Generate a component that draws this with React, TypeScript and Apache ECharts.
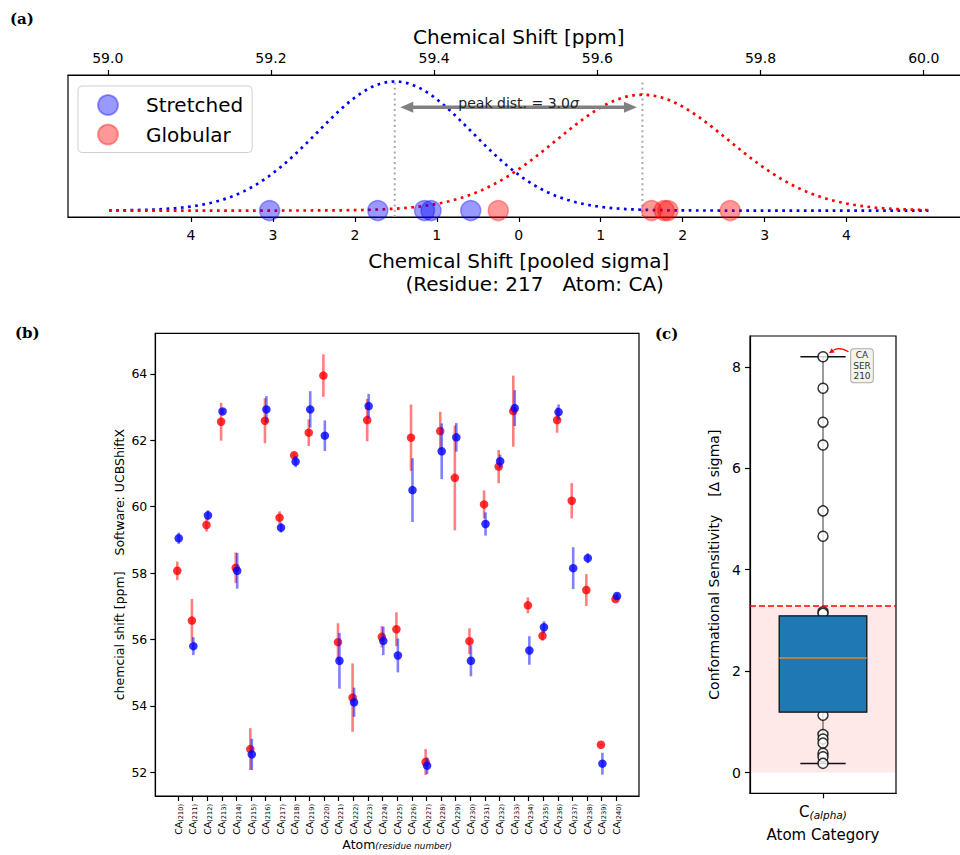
import React, { useEffect, useRef } from "react";
import * as echarts from "echarts";

// ---------------- Panel (a) data ----------------
const stretchedSigma = [-3.04, -1.72, -1.15, -1.07, -0.586];
const globularSigma = [-0.25, 1.62, 1.775, 1.82, 2.58];
const sigmaTicks = [-4, -3, -2, -1, 0, 1, 2, 3, 4];
const ppmTicks = [59.0, 59.2, 59.4, 59.6, 59.8, 60.0];
const ppmAtZeroSigma = 59.5037;
const ppmPerSigma = 0.10044;
const curveRange = [-5, 5];
const residueLine = "(Residue: 217   Atom: CA)";

// ---------------- Panel (b) data ----------------
const residues = [
  210, 211, 212, 213, 214, 215, 216, 217, 218, 219, 220, 221, 222, 223, 224, 225,
  226, 227, 228, 229, 230, 231, 232, 233, 234, 235, 236, 237, 238, 239, 240,
];
const stretchedShift = [
  59.05, 55.8, 59.74, 62.87, 58.07, 52.54, 62.93, 59.37, 61.36, 62.93, 62.14, 55.36,
  54.11, 63.03, 55.96, 55.52, 60.5, 52.2, 61.67, 62.09, 55.36, 59.48, 61.37, 62.97,
  55.67, 56.37, 62.85, 58.15, 58.45, 52.26, 57.31,
];
const stretchedErr = [
  0.17, 0.27, 0.15, 0.08, 0.54, 0.47, 0.4, 0.15, 0.17, 0.55, 0.46, 0.84, 0.44, 0.37,
  0.43, 0.51, 0.96, 0.25, 0.84, 0.43, 0.47, 0.35, 0.2, 0.54, 0.43, 0.18, 0.23, 0.63,
  0.15, 0.33, 0.08,
];
const globularShift = [
  58.07, 56.57, 59.45, 62.56, 58.16, 52.7, 62.59, 59.67, 61.55, 62.23, 63.95, 55.92,
  54.25, 62.61, 56.08, 56.31, 62.08, 52.31, 62.28, 60.87, 55.95, 60.07, 61.21, 62.88,
  57.03, 56.11, 62.61, 60.18, 57.49, 52.83, 57.22,
];
const globularErr = [
  0.28, 0.65, 0.2, 0.57, 0.46, 0.63, 0.68, 0.19, 0.08, 0.4, 0.64, 0.57, 1.03, 0.64,
  0.32, 0.51, 1.0, 0.39, 0.58, 1.58, 0.39, 0.42, 0.5, 1.07, 0.24, 0.15, 0.38, 0.53,
  0.48, 0.03, 0.05,
];
const shiftTicks = [52, 54, 56, 58, 60, 62, 64];

// ---------------- Panel (c) data ----------------
const sensitivityPoints = [
  8.2, 7.58, 6.91, 6.46, 5.16, 4.66, 3.17, 3.14, 1.13, 0.75, 0.66, 0.58, 0.38, 0.31, 0.18,
];
// low whisker, Q1, median, Q3, high whisker
const boxStats = [0.18, 1.19, 2.26, 3.09, 8.2];
const sensitivityThreshold = 3.29;
const sensitivityTicks = [0, 2, 4, 6, 8];
const annotationLines = ["CA", "SER", "210"];
const annotationValue = 8.2;

// ---------------- helpers ----------------
const FONT = '"DejaVu Sans", sans-serif';
const mean = (a: number[]) => a.reduce((s, v) => s + v, 0) / a.length;
const sampleStd = (a: number[]) => {
  const m = mean(a);
  return Math.sqrt(a.reduce((s, v) => s + (v - m) * (v - m), 0) / (a.length - 1));
};
const normalPdf = (x: number, m: number, s: number) =>
  Math.exp(-((x - m) * (x - m)) / (2 * s * s)) / (s * Math.sqrt(2 * Math.PI));

function buildOption() {
  // panel (a)
  const mB = mean(stretchedSigma);
  const sB = sampleStd(stretchedSigma);
  const mR = mean(globularSigma);
  const sR = sampleStd(globularSigma);
  const nSamples = 200;
  const xs: number[] = [];
  for (let i = 0; i <= nSamples; i++) {
    xs.push(curveRange[0] + ((curveRange[1] - curveRange[0]) * i) / nSamples);
  }
  const blueCurve = xs.map((x) => [x, normalPdf(x, mB, sB)]);
  const redCurve = xs.map((x) => [x, normalPdf(x, mR, sR)]);
  const peak = Math.max(normalPdf(mB, mB, sB), normalPdf(mR, mR, sR));
  const aYMin = -0.05 * peak;
  const aYMax = peak * 1.05;
  const span = curveRange[1] - curveRange[0];
  const aXMin = curveRange[0] - 0.05 * span;
  const aXMax = curveRange[1] + 0.05 * span;
  const ppmMin = ppmAtZeroSigma + aXMin * ppmPerSigma;
  const ppmMax = ppmAtZeroSigma + aXMax * ppmPerSigma;
  const arrowY = 0.8 * peak;
  const peakDist = mR - mB;

  // panel (b)
  const off = 0.05;
  const n = residues.length;
  const bxLo = -off;
  const bxHi = n - 1 + off;
  const bxMin = bxLo - 0.05 * (bxHi - bxLo);
  const bxMax = bxHi + 0.05 * (bxHi - bxLo);
  const lows = [
    ...stretchedShift.map((v, i) => v - stretchedErr[i]),
    ...globularShift.map((v, i) => v - globularErr[i]),
  ];
  const highs = [
    ...stretchedShift.map((v, i) => v + stretchedErr[i]),
    ...globularShift.map((v, i) => v + globularErr[i]),
  ];
  const byLo = Math.min(...lows);
  const byHi = Math.max(...highs);
  const byMin = byLo - 0.05 * (byHi - byLo);
  const byMax = byHi + 0.05 * (byHi - byLo);
  const idx = residues.map((_, i) => i);

  // panel (c)
  const cyMin = -0.05 * boxStats[4];
  const cyMax = boxStats[4] * 1.05;

  const axisLine = { show: true, onZero: false, lineStyle: { color: "#000", width: 1.2 } };
  const axisTick = (vals: number[]) => ({
    show: true,
    length: 5,
    customValues: vals,
    lineStyle: { color: "#000", width: 1.2 },
  });

  const errRender = (color: string) => (params: any, api: any) => {
    const x = api.value(0);
    const y = api.value(1);
    const e = api.value(2);
    const p1 = api.coord([x, y - e]);
    const p2 = api.coord([x, y + e]);
    return {
      type: "line",
      shape: { x1: p1[0], y1: p1[1], x2: p2[0], y2: p2[1] },
      style: { stroke: color, lineWidth: 2.6 },
    };
  };

  const gridBase = { show: true, borderColor: "#000", borderWidth: 1.2, containLabel: false, outerBoundsMode: "none" };

  return {
    animation: false,
    backgroundColor: "#fff",
    textStyle: { fontFamily: FONT },
    legend: {
      data: ["Stretched", "Globular"],
      orient: "vertical",
      left: 78,
      top: 86,
      padding: [8, 9, 7, 19],
      itemGap: 7.5,
      itemWidth: 20,
      itemHeight: 20,
      icon: "circle",
      borderColor: "#d0d0d0",
      borderWidth: 1,
      borderRadius: 4,
      backgroundColor: "#fff",
      formatter: (name: string) => "{g|}" + name,
      textStyle: {
        fontSize: 20,
        color: "#000",
        fontFamily: FONT,
        rich: { g: { width: 23 } },
      },
    },
    graphic: [
      { type: "text", left: 10, top: 11, style: { text: "(a)", font: 'bold 15px "DejaVu Serif"', fill: "#000" } },
      { type: "text", left: 15, top: 325, style: { text: "(b)", font: 'bold 15px "DejaVu Serif"', fill: "#000" } },
      { type: "text", left: 655, top: 326, style: { text: "(c)", font: 'bold 15px "DejaVu Serif"', fill: "#000" } },
    ],
    grid: [
      { ...gridBase, left: 68, top: 75, width: 901.5, height: 142 },
      { ...gridBase, left: 155.3, top: 333.3, width: 483.7, height: 462.7 },
      { ...gridBase, left: 750, top: 336, width: 146, height: 457.3 },
    ],
    xAxis: [
      {
        gridIndex: 0,
        type: "value",
        position: "bottom",
        min: aXMin,
        max: aXMax,
        axisLine,
        axisTick: axisTick(sigmaTicks),
        splitLine: { show: false },
        axisLabel: {
          customValues: sigmaTicks,
          formatter: (v: number) => String(Math.abs(Math.round(v))),
          fontSize: 14,
          color: "#000",
          margin: 11,
        },
        name: "Chemical Shift [pooled sigma]\n     " + residueLine,
        nameLocation: "middle",
        nameGap: 32,
        nameMoveOverlap: false,
        nameTextStyle: { fontSize: 20, color: "#000", lineHeight: 23 },
      },
      {
        gridIndex: 0,
        type: "value",
        position: "top",
        min: ppmMin,
        max: ppmMax,
        axisLine,
        axisTick: axisTick(ppmTicks),
        splitLine: { show: false },
        axisLabel: {
          customValues: ppmTicks,
          formatter: (v: number) => v.toFixed(1),
          fontSize: 14,
          color: "#000",
          margin: 10,
        },
        name: "Chemical Shift [ppm]",
        nameLocation: "middle",
        nameGap: 28,
        nameMoveOverlap: false,
        nameTextStyle: { fontSize: 20, color: "#000" },
      },
      {
        gridIndex: 1,
        type: "value",
        min: bxMin,
        max: bxMax,
        axisLine,
        axisTick: axisTick(idx),
        splitLine: { show: false },
        axisLabel: {
          customValues: idx,
          rotate: 90,
          margin: 8,
          formatter: (v: number) => "{a|CA}{s|(" + residues[Math.round(v)] + ")}",
          rich: {
            a: { fontSize: 9.5, color: "#000", fontFamily: FONT },
            s: { fontSize: 6.6, color: "#000", fontFamily: FONT, padding: [5, 0, 0, 0] },
          },
        },
        name: "{a|Atom}{s|(residue number)}",
        nameLocation: "middle",
        nameGap: 42,
        nameMoveOverlap: false,
        nameTextStyle: {
          rich: {
            a: { fontSize: 12.5, lineHeight: 13, color: "#000", fontFamily: FONT },
            s: { fontSize: 8.8, lineHeight: 13, color: "#000", fontStyle: "italic", fontFamily: FONT, padding: [3, 0, 0, 0] },
          },
        },
      },
      {
        gridIndex: 2,
        type: "category",
        data: ["C(alpha)"],
        axisLine,
        axisTick: { show: true, alignWithLabel: true, length: 5, lineStyle: { color: "#000", width: 1.2 } },
        splitLine: { show: false },
        axisLabel: {
          margin: 10,
          formatter: () => "{c|C}{s|(alpha)}",
          rich: {
            c: { fontSize: 15, color: "#000", fontFamily: FONT },
            s: { fontSize: 10.5, color: "#000", fontStyle: "italic", fontFamily: FONT, padding: [6, 0, 0, 0] },
          },
        },
        name: "Atom Category",
        nameLocation: "middle",
        nameGap: 34,
        nameMoveOverlap: false,
        nameTextStyle: { fontSize: 15, color: "#000" },
      },
    ],
    yAxis: [
      { gridIndex: 0, type: "value", min: aYMin, max: aYMax, show: false, axisLine: { onZero: false } },
      {
        gridIndex: 1,
        type: "value",
        min: byMin,
        max: byMax,
        axisLine,
        axisTick: axisTick(shiftTicks),
        splitLine: { show: false },
        axisLabel: { customValues: shiftTicks, fontSize: 12.5, color: "#000", margin: 8 },
        name: "chemcial shift [ppm]    Software: UCBShiftX",
        nameLocation: "middle",
        nameRotate: 90,
        nameGap: 29,
        nameMoveOverlap: false,
        nameTextStyle: { fontSize: 12.5, color: "#000" },
      },
      {
        gridIndex: 2,
        type: "value",
        min: cyMin,
        max: cyMax,
        axisLine,
        axisTick: axisTick(sensitivityTicks),
        splitLine: { show: false },
        axisLabel: { customValues: sensitivityTicks, fontSize: 14, color: "#000", margin: 9 },
        name: "Conformational Sensitivity    [Δ sigma]",
        nameLocation: "middle",
        nameRotate: 90,
        nameGap: 29,
        nameMoveOverlap: false,
        nameTextStyle: { fontSize: 14, color: "#000" },
      },
    ],
    series: [
      // ---------- (a) ----------
      {
        name: "stretched-fit",
        type: "line",
        xAxisIndex: 0,
        yAxisIndex: 0,
        data: blueCurve,
        showSymbol: false,
        symbol: "none",
        lineStyle: { color: "#0000ff", width: 2.7, type: [2.7, 4.5] },
        z: 2,
      },
      {
        name: "globular-fit",
        type: "line",
        xAxisIndex: 0,
        yAxisIndex: 0,
        data: redCurve,
        showSymbol: false,
        symbol: "none",
        lineStyle: { color: "#ff0000", width: 2.7, type: [2.7, 4.5] },
        z: 2,
      },
      {
        name: "peak-lines",
        type: "line",
        xAxisIndex: 0,
        yAxisIndex: 0,
        data: [[mB, aYMin], [mB, peak], null, [mR, aYMin], [mR, peak]],
        connectNulls: false,
        showSymbol: false,
        symbol: "none",
        lineStyle: { color: "#aaaaaa", width: 2, type: [2, 3.3] },
        z: 1,
      },
      {
        name: "Stretched",
        type: "scatter",
        xAxisIndex: 0,
        yAxisIndex: 0,
        data: stretchedSigma.map((x) => [x, 0]),
        symbolSize: 20,
        itemStyle: { color: "rgba(0,0,255,0.5)", borderColor: "rgba(0,0,255,0.45)", borderWidth: 1.5 },
        z: 3,
      },
      {
        name: "Globular",
        type: "scatter",
        xAxisIndex: 0,
        yAxisIndex: 0,
        data: globularSigma.map((x) => [x, 0]),
        symbolSize: 20,
        itemStyle: { color: "rgba(255,0,0,0.5)", borderColor: "rgba(255,0,0,0.45)", borderWidth: 1.5 },
        z: 3,
      },
      {
        name: "peak-arrow",
        type: "custom",
        xAxisIndex: 0,
        yAxisIndex: 0,
        data: [[mB, arrowY, mR]],
        z: 4,
        renderItem: (params: any, api: any) => {
          const p1 = api.coord([api.value(0), api.value(1)]);
          const p2 = api.coord([api.value(2), api.value(1)]);
          const shrink = 5.5;
          const hl = 13;
          const hw = 5.5;
          const x1 = p1[0] + shrink;
          const x2 = p2[0] - shrink;
          const y = p1[1];
          const col = "#808080";
          return {
            type: "group",
            children: [
              {
                type: "line",
                shape: { x1: x1 + hl - 2, y1: y, x2: x2 - hl + 2, y2: y },
                style: { stroke: col, lineWidth: 3.5 },
              },
              {
                type: "polygon",
                shape: { points: [[x1, y], [x1 + hl, y - hw], [x1 + hl, y + hw]] },
                style: { fill: col },
              },
              {
                type: "polygon",
                shape: { points: [[x2, y], [x2 - hl, y - hw], [x2 - hl, y + hw]] },
                style: { fill: col },
              },
              {
                type: "text",
                x: (x1 + x2) / 2,
                y: y - 4.5,
                style: {
                  text: "peak dist. = " + peakDist.toFixed(1) + "{i|σ}",
                  fill: "#222",
                  font: '14px "DejaVu Sans"',
                  align: "center",
                  verticalAlign: "middle",
                  rich: { i: { fontStyle: "italic", fontSize: 14, fill: "#222", fontFamily: "DejaVu Sans" } },
                },
              },
            ],
          };
        },
      },
      // ---------- (b) ----------
      {
        name: "globular-err",
        type: "custom",
        xAxisIndex: 2,
        yAxisIndex: 1,
        data: idx.map((i) => [i - off, globularShift[i], globularErr[i]]),
        renderItem: errRender("rgba(255,0,0,0.5)"),
        z: 2,
      },
      {
        name: "globular-pts",
        type: "scatter",
        xAxisIndex: 2,
        yAxisIndex: 1,
        data: idx.map((i) => [i - off, globularShift[i]]),
        symbolSize: 8.5,
        itemStyle: { color: "#ff0000" },
        z: 3,
      },
      {
        name: "stretched-err",
        type: "custom",
        xAxisIndex: 2,
        yAxisIndex: 1,
        data: idx.map((i) => [i + off, stretchedShift[i], stretchedErr[i]]),
        renderItem: errRender("rgba(0,0,255,0.5)"),
        z: 4,
      },
      {
        name: "stretched-pts",
        type: "scatter",
        xAxisIndex: 2,
        yAxisIndex: 1,
        data: idx.map((i) => [i + off, stretchedShift[i]]),
        symbolSize: 8.5,
        itemStyle: { color: "#0000ff" },
        z: 5,
      },
      // ---------- (c) ----------
      {
        name: "whiskers",
        type: "custom",
        xAxisIndex: 3,
        yAxisIndex: 2,
        data: [[0, ...boxStats]],
        z: 2,
        renderItem: (params: any, api: any) => {
          const band = api.size([1, 0])[0];
          const cx = api.coord([0, 0])[0];
          const pLow = api.coord([0, api.value(1)]);
          const pQ1 = api.coord([0, api.value(2)]);
          const pQ3 = api.coord([0, api.value(4)]);
          const pHigh = api.coord([0, api.value(5)]);
          const capHalf = band * 0.155;
          return {
            type: "group",
            children: [
              { type: "line", shape: { x1: cx, y1: pQ1[1], x2: cx, y2: pLow[1] }, style: { stroke: "#7a7a7a", lineWidth: 1.5 } },
              { type: "line", shape: { x1: cx, y1: pQ3[1], x2: cx, y2: pHigh[1] }, style: { stroke: "#7a7a7a", lineWidth: 1.5 } },
              { type: "line", shape: { x1: cx - capHalf, y1: pLow[1], x2: cx + capHalf, y2: pLow[1] }, style: { stroke: "#111", lineWidth: 1.5 } },
              { type: "line", shape: { x1: cx - capHalf, y1: pHigh[1], x2: cx + capHalf, y2: pHigh[1] }, style: { stroke: "#111", lineWidth: 1.5 } },
            ],
          };
        },
      },
      {
        name: "sensitivity",
        type: "scatter",
        xAxisIndex: 3,
        yAxisIndex: 2,
        data: sensitivityPoints.map((v) => [0, v]),
        symbol: "circle",
        symbolSize: 10,
        itemStyle: { color: "#ffffff", borderColor: "#000", borderWidth: 1.5 },
        z: 3,
        markArea: {
          silent: true,
          itemStyle: { color: "rgba(255,0,0,0.09)" },
          data: [[{ yAxis: 0 }, { yAxis: sensitivityThreshold }]],
        },
        markLine: {
          silent: true,
          symbol: "none",
          label: { show: false },
          lineStyle: { color: "#ff0000", width: 1.6, type: [6, 3] },
          data: [{ yAxis: sensitivityThreshold }],
        },
      },
      {
        name: "box",
        type: "custom",
        xAxisIndex: 3,
        yAxisIndex: 2,
        data: [[0, ...boxStats]],
        z: 6,
        renderItem: (params: any, api: any) => {
          const band = api.size([1, 0])[0];
          const cx = api.coord([0, 0])[0];
          const pQ1 = api.coord([0, api.value(2)]);
          const pMed = api.coord([0, api.value(3)]);
          const pQ3 = api.coord([0, api.value(4)]);
          const half = band * 0.3;
          return {
            type: "group",
            children: [
              {
                type: "rect",
                shape: { x: cx - half, y: pQ3[1], width: 2 * half, height: pQ1[1] - pQ3[1] },
                style: { fill: "#1f77b4", stroke: "#111", lineWidth: 1.3 },
              },
              {
                type: "line",
                shape: { x1: cx - half, y1: pMed[1], x2: cx + half, y2: pMed[1] },
                style: { stroke: "#d98a33", lineWidth: 1.6 },
              },
            ],
          };
        },
      },
      {
        name: "annotation",
        type: "custom",
        xAxisIndex: 3,
        yAxisIndex: 2,
        data: [[0, annotationValue]],
        z: 7,
        renderItem: (params: any, api: any) => {
          const p = api.coord([0, api.value(1)]);
          const sx = p[0] + 25.5;
          const sy = p[1] - 5;
          const ex = p[0] + 6;
          const ey = p[1] - 3.5;
          const cpx = p[0] + 16;
          const cpy = p[1] - 10.5;
          const dx = ex - cpx;
          const dy = ey - cpy;
          const L = Math.sqrt(dx * dx + dy * dy);
          const ux = dx / L;
          const uy = dy / L;
          const hl = 5;
          const hw = 2.6;
          const bx = ex - ux * hl;
          const by = ey - uy * hl;
          return {
            type: "group",
            children: [
              {
                type: "bezierCurve",
                shape: { x1: sx, y1: sy, x2: bx, y2: by, cpx1: cpx, cpy1: cpy },
                style: { stroke: "#ff0000", lineWidth: 1.1, fill: "none" },
              },
              {
                type: "polygon",
                shape: { points: [[ex, ey], [bx - uy * hw, by + ux * hw], [bx + uy * hw, by - ux * hw]] },
                style: { fill: "#ff0000" },
              },
              {
                type: "text",
                x: p[0] + 39,
                y: p[1] - 7.5,
                style: {
                  text: annotationLines.join("\n"),
                  font: '9px "DejaVu Sans"',
                  fill: "#333",
                  align: "center",
                  verticalAlign: "top",
                  lineHeight: 10.3,
                  backgroundColor: "#f4f4ea",
                  borderColor: "#aaaaaa",
                  borderWidth: 1,
                  borderRadius: 3,
                  padding: [1, 2, 1, 2],
                },
              },
            ],
          };
        },
      },
    ],
  };
}

export default function App() {
  const ref = useRef<HTMLDivElement>(null);
  useEffect(() => {
    if (!ref.current) return;
    const chart = echarts.init(ref.current, undefined, { renderer: "svg" });
    chart.setOption(buildOption() as any);
    return () => chart.dispose();
  }, []);
  return (
    <div
      style={{
        position: "fixed",
        left: 0,
        top: 0,
        width: 960,
        height: 855,
        overflow: "hidden",
        background: "#fff",
      }}
    >
      <div ref={ref} style={{ width: 990, height: 855 }} />
    </div>
  );
}
